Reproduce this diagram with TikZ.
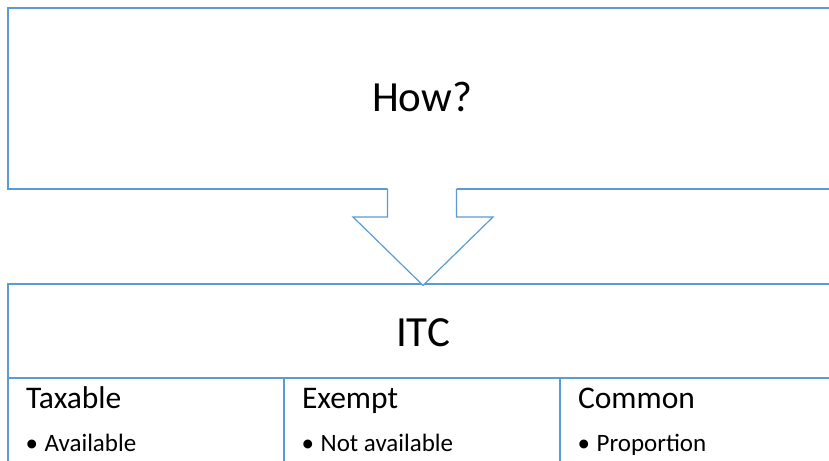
\documentclass[tikz,border=0pt]{standalone}
\usepackage{fontspec}
\setmainfont{Carlito}
\definecolor{frame}{HTML}{5B9BD5}
\tikzset{
  panel/.style={draw=frame, line width=1.2pt, fill=white, rectangle, inner sep=0pt},
  bigtext/.style={font=\fontsize{43}{50}\selectfont, anchor=base, inner sep=0pt},
  headtext/.style={font=\fontsize{31.5}{37}\selectfont, anchor=base west, inner sep=0pt},
  itemtext/.style={font=\fontsize{25}{30}\selectfont, anchor=base west, inner sep=0pt},
  bullettext/.style={font=\fontsize{25}{30}\selectfont, anchor=base, inner sep=0pt},
}
\begin{document}
\begin{tikzpicture}[x=1pt, y=-1pt]
  \useasboundingbox (0,0) rectangle (829,460);
  \clip (0,0) rectangle (829,460);

  % question box
  \node[panel, line width=1.5pt, minimum width=828pt, minimum height=181pt] (how) at (422,98.5) {};
  \node[bigtext] (howlabel) at (422,111) {How?};

  % ITC header and its three columns
  \node[panel, minimum width=828pt, minimum height=94pt] (itc) at (422,331) {};
  \node[bigtext] (itclabel) at (423,346) {ITC};
  \node[panel, minimum width=276pt, minimum height=102pt] (colA) at (146,429) {};
  \node[panel, minimum width=276pt, minimum height=102pt] (colB) at (422,429) {};
  \node[panel, minimum width=276pt, minimum height=102pt] (colC) at (698,429) {};

  % block arrow from the question box down to the ITC box
  \coordinate (sl) at ([xshift=-34.5pt]how.south);
  \coordinate (sr) at ([xshift=34.5pt]how.south);
  \coordinate (tip) at ([xshift=1pt, yshift=-2pt]itc.north);
  \fill[white] ([yshift=4pt]sl) -- (sl |- 0,217) -- (353,217) -- (tip)
     -- (493,217) -- (sr |- 0,217) -- ([yshift=4pt]sr) -- cycle;
  \draw[frame, line width=1.2pt, line join=miter]
     ([yshift=0.75pt]sl) -- (sl |- 0,217) -- (353,217) -- (tip) -- (493,217) -- (sr |- 0,217) -- ([yshift=0.75pt]sr);

  % column headings and items
  \node[headtext] (hA) at ([xshift=18.5pt]colA.west |- 0,408) {Taxable};
  \node[headtext] (hB) at ([xshift=18.5pt]colB.west |- 0,408) {Exempt};
  \node[headtext] (hC) at ([xshift=18.5pt]colC.west |- 0,408) {Common};

  \node[bullettext] (bA) at ([xshift=24.5pt]colA.west |- 0,451.5) {•};
  \node[bullettext] (bB) at ([xshift=24.5pt]colB.west |- 0,451.5) {•};
  \node[bullettext] (bC) at ([xshift=24.5pt]colC.west |- 0,451.5) {•};
  \node[itemtext] (iA) at ([xshift=37pt]colA.west |- 0,451.5) {Available};
  \node[itemtext] (iB) at ([xshift=37pt]colB.west |- 0,451.5) {Not available};
  \node[itemtext] (iC) at ([xshift=37pt]colC.west |- 0,451.5) {Proportion};
\end{tikzpicture}
\end{document}
